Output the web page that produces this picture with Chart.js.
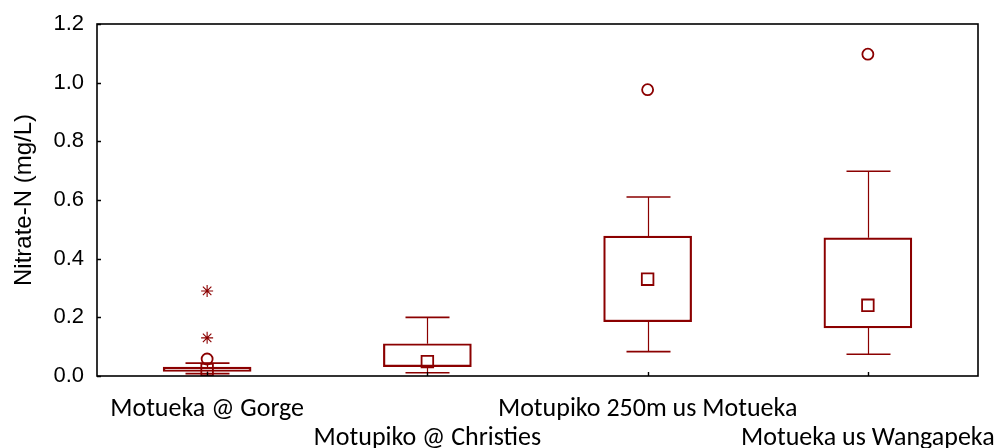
<!DOCTYPE html>
<html>
<head>
<meta charset="utf-8">
<script src="https://cdn.jsdelivr.net/npm/chart.js@4.4.1/dist/chart.umd.min.js"></script>
<style>
  html, body { margin: 0; padding: 0; background: #fff; }
  #wrap { width: 999px; height: 448px; position: relative; }
</style>
</head>
<body>
<div id="wrap"><canvas id="c" width="999" height="448"></canvas></div>
<script>
const categories = ['Motueka @ Gorge', 'Motupiko @ Christies', 'Motupiko 250m us Motueka', 'Motueka us Wangapeka'];
const q1Values = [0.016, 0.032, 0.185, 0.164];
const q3Values = [0.030, 0.110, 0.477, 0.471];
const medianValues = [0.022, 0.049, 0.330, 0.241];
const whiskerLow = [0.008, 0.011, 0.083, 0.074];
const whiskerHigh = [0.044, 0.200, 0.610, 0.698];
const outlierCats = [0, 2, 3];
const outlierValues = [0.058, 0.976, 1.097];
const extremeCats = [0, 0];
const extremeValues = [0.290, 0.130];
const yTicks = [0, 0.2, 0.4, 0.6, 0.8, 1.0, 1.2];

const RED = '#8B0000';

const boxData = categories.map((c, i) => [q1Values[i], q3Values[i]]);
const outlierData = outlierCats.map((ci, i) => ({ x: categories[ci], y: outlierValues[i] }));
const extremeData = extremeCats.map((ci, i) => ({ x: categories[ci], y: extremeValues[i] }));

const whiskerPlugin = {
  id: 'whiskers',
  beforeDatasetsDraw(chart) {
    const { ctx, scales: { x, y } } = chart;
    ctx.save();
    ctx.strokeStyle = RED;
    categories.forEach((c, i) => {
      const px = Math.round(x.getPixelForValue(i)) + 0.5;
      const capHalf = 22;
      const yl = y.getPixelForValue(whiskerLow[i]);
      const yh = y.getPixelForValue(whiskerHigh[i]);
      const y1 = y.getPixelForValue(q1Values[i]);
      const y3 = y.getPixelForValue(q3Values[i]);
      ctx.lineWidth = 1.2;
      ctx.beginPath();
      ctx.moveTo(px, y3); ctx.lineTo(px, yh);
      ctx.moveTo(px, y1); ctx.lineTo(px, yl);
      ctx.stroke();
      ctx.lineWidth = 1.6;
      ctx.beginPath();
      ctx.moveTo(px - capHalf, yh); ctx.lineTo(px + capHalf, yh);
      ctx.moveTo(px - capHalf, yl); ctx.lineTo(px + capHalf, yl);
      ctx.stroke();
    });
    ctx.restore();
  },
  afterDraw(chart) {
    const { ctx, chartArea: a, scales: { x, y } } = chart;
    ctx.save();
    ctx.strokeStyle = '#000';
    ctx.lineWidth = 1.6;
    ctx.strokeRect(a.left, a.top, a.right - a.left, a.bottom - a.top);
    ctx.lineWidth = 1.4;
    ctx.beginPath();
    yTicks.forEach(v => {
      const py = Math.round(y.getPixelForValue(v)) + 0.5;
      ctx.moveTo(a.left, py); ctx.lineTo(a.left + 4, py);
    });
    categories.forEach((c, i) => {
      const px = Math.round(x.getPixelForValue(i)) + 0.5;
      ctx.moveTo(px, a.bottom); ctx.lineTo(px, a.bottom - 4);
    });
    ctx.stroke();
    ctx.restore();
  }
};

new Chart(document.getElementById('c'), {
  type: 'bar',
  data: {
    labels: categories,
    datasets: [
      {
        type: 'bar',
        data: boxData,
        backgroundColor: '#ffffff',
        borderColor: RED,
        borderWidth: 2.2,
        borderSkipped: false,
        barThickness: 88,
        order: 3
      },
      {
        type: 'line',
        data: medianValues,
        showLine: false,
        pointStyle: 'rect',
        pointRadius: 8.2,
        pointBorderWidth: 1.8,
        pointBorderColor: RED,
        pointBackgroundColor: 'rgba(255,255,255,0)',
        order: 2
      },
      {
        type: 'line',
        data: outlierData,
        showLine: false,
        pointStyle: 'circle',
        pointRadius: 5.5,
        pointBorderWidth: 1.8,
        pointBorderColor: RED,
        pointBackgroundColor: 'rgba(255,255,255,0)',
        order: 1
      },
      {
        type: 'line',
        data: extremeData,
        showLine: false,
        pointStyle: 'star',
        pointRadius: 6,
        pointBorderWidth: 1.1,
        pointBorderColor: RED,
        pointBackgroundColor: RED,
        order: 1
      }
    ]
  },
  options: {
    responsive: false,
    animation: false,
    events: [],
    layout: { padding: { top: 24, right: 21, left: 0, bottom: 0 } },
    plugins: { legend: { display: false }, tooltip: { enabled: false } },
    scales: {
      x: {
        type: 'category',
        offset: true,
        grid: { display: false, drawTicks: false },
        border: { display: false },
        ticks: {
          autoSkip: false,
          maxRotation: 0,
          minRotation: 0,
          padding: 19,
          color: '#000',
          font: { family: 'Carlito, Lato, sans-serif', size: 26, lineHeight: 1.12 },
          callback: function (v, i) {
            const l = categories[i];
            return i % 2 === 1 ? ['', l] : l;
          }
        },
        afterFit(scale) {
          scale.height = 72;
          scale.paddingLeft = 0;
          scale.paddingRight = 0;
        }
      },
      y: {
        min: 0,
        max: 1.2,
        afterBuildTicks(scale) { scale.ticks = yTicks.map(v => ({ value: v })); },
        grid: { display: false, drawTicks: false },
        border: { display: false },
        ticks: {
          padding: 13,
          color: '#000',
          font: { family: '"Liberation Sans", Arial, sans-serif', size: 22 },
          callback: v => Number(v).toFixed(1)
        },
        title: {
          display: true,
          text: 'Nitrate-N (mg/L)',
          color: '#000',
          font: { family: '"Liberation Sans", Arial, sans-serif', size: 24 },
          padding: { top: 10, bottom: 0 }
        },
        afterFit(scale) {
          scale.width = 97;
          scale.paddingTop = 0;
          scale.paddingBottom = 0;
        }
      }
    }
  },
  plugins: [whiskerPlugin]
});
</script>
</body>
</html>
